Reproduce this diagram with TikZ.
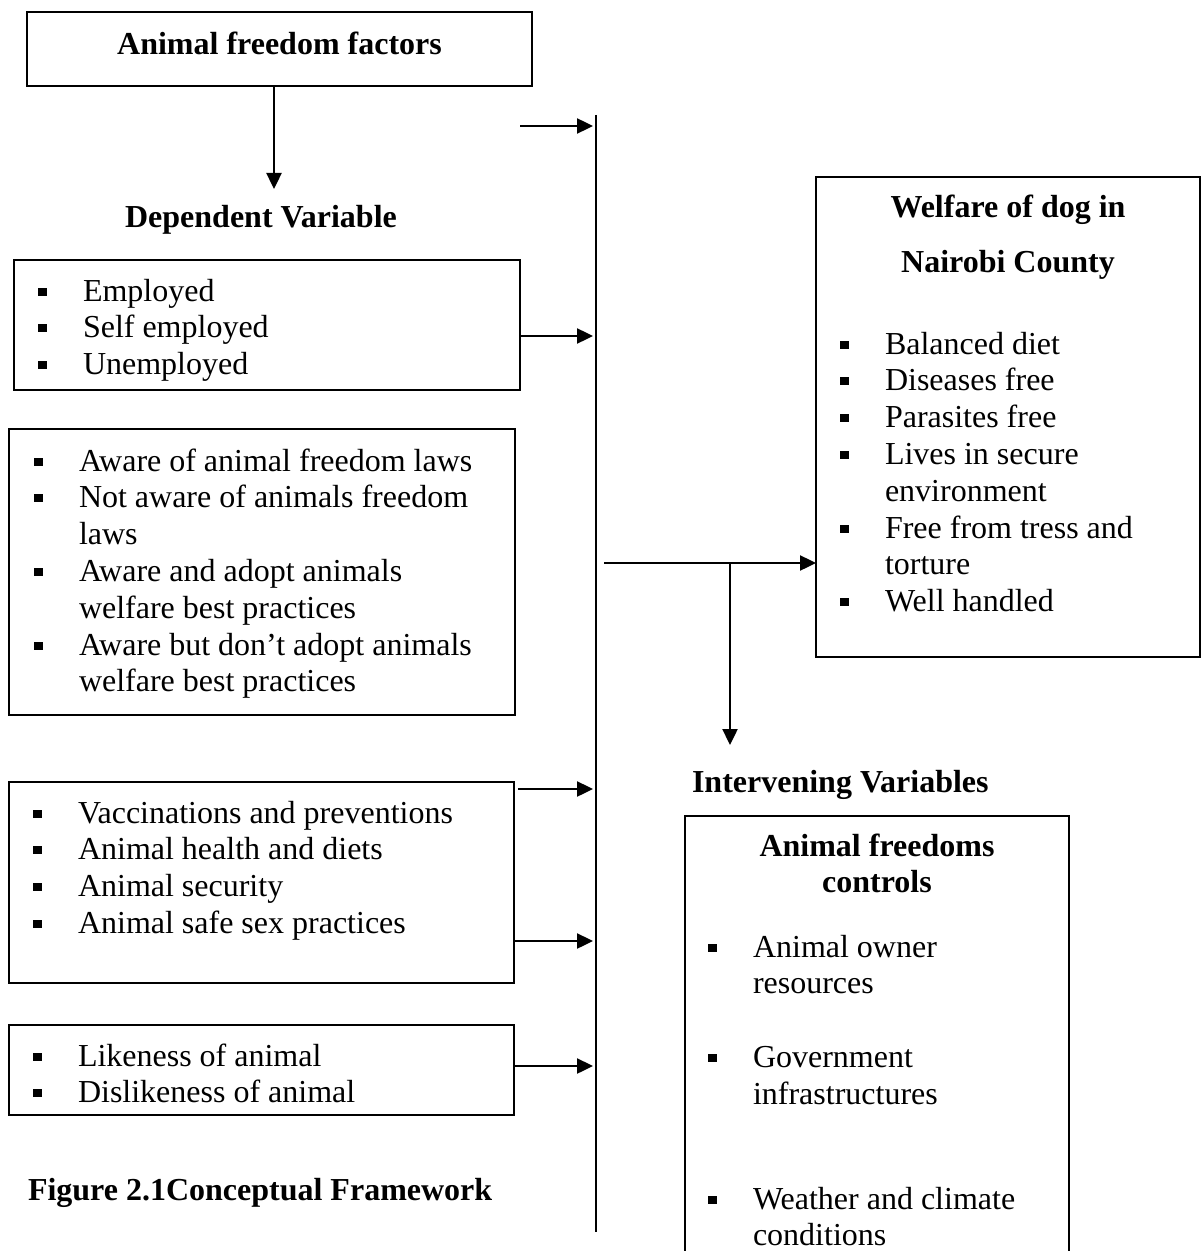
\documentclass[tikz,border=0pt]{standalone}
\usepackage{fontspec}
\setmainfont{Liberation Serif}
\usetikzlibrary{arrows.meta}
\newcommand{\bl}{\makebox[22.5pt][l]{\rule[2.7pt]{4.5pt}{4pt}}}
\begin{document}
\begin{tikzpicture}[x=0.5pt,y=-0.5pt,every node/.style={inner sep=0pt, outer sep=0pt, font=\fontsize{16}{18.4}\selectfont},
head/.style={font=\fontsize{16}{18.4}\selectfont\bfseries},
frame/.style={draw, line width=1pt, anchor=north west},
arr/.style={line width=1.2pt, -{Triangle[length=8pt,width=7.5pt]}}]
\clip (0,0) rectangle (1203,1251);
% frames
\node[frame, head, minimum width=252.5pt, minimum height=37pt, text depth=6pt] (factors) at (27,12) {Animal freedom factors};
\node[frame, minimum width=253pt, minimum height=65pt] (employ) at (14,260) {};
\node[frame, minimum width=253pt, minimum height=143pt] (aware) at (9,429) {};
\node[frame, minimum width=252.5pt, minimum height=100.5pt] (care) at (9,782) {};
\node[frame, minimum width=252.5pt, minimum height=45pt] (liking) at (9,1025) {};
\node[frame, minimum width=192pt, minimum height=240pt] (welfare) at (816,177) {};
\node[frame, minimum width=192pt, minimum height=250pt] (controls) at (685,816) {};
% headings
\node[head, anchor=base] (dep) at (261,228) {Dependent Variable};
\node[head, anchor=base] (welt1) at (1008,218) {Welfare of dog in};
\node[head, anchor=base] (welt2) at (1008,273) {Nairobi County};
\node[head, anchor=base west] (interv) at (692,792) {Intervening Variables};
\node[head, anchor=base] (ctrlt1) at (877,856) {Animal freedoms};
\node[head, anchor=base] (ctrlt2) at (877,892) {controls};
\node[head, anchor=base west] (caption) at (28,1200) {Figure 2.1Conceptual Framework};
% lists
\node[anchor=base west] (employlist) at (38,301) {\begin{tabular}[t]{@{}l@{}l@{}}
\bl & Employed\\
\bl & Self employed\\
\bl & Unemployed
\end{tabular}};
\node[anchor=base west] (awarelist) at (34,471) {\begin{tabular}[t]{@{}l@{}l@{}}
\bl & Aware of animal freedom laws\\
\bl & Not aware of animals freedom\\
 & laws\\
\bl & Aware and adopt animals\\
 & welfare best practices\\
\bl & Aware but don’t adopt animals\\
 & welfare best practices
\end{tabular}};
\node[anchor=base west] (carelist) at (33,823) {\begin{tabular}[t]{@{}l@{}l@{}}
\bl & Vaccinations and preventions\\
\bl & Animal health and diets\\
\bl & Animal security\\
\bl & Animal safe sex practices
\end{tabular}};
\node[anchor=base west] (likinglist) at (33,1066) {\begin{tabular}[t]{@{}l@{}l@{}}
\bl & Likeness of animal\\
\bl & Dislikeness of animal
\end{tabular}};
\node[anchor=base west] (welfarelist) at (840,354) {\begin{tabular}[t]{@{}l@{}l@{}}
\bl & Balanced diet\\
\bl & Diseases free\\
\bl & Parasites free\\
\bl & Lives in secure\\
 & environment\\
\bl & Free from tress and\\
 & torture\\
\bl & Well handled
\end{tabular}};
\node[anchor=base west] (controlslist) at (708,957) {\begin{tabular}[t]{@{}l@{}l@{}}
\bl & Animal owner\\
 & resources\\[18.4pt]
\bl & Government\\
 & infrastructures\\[34pt]
\bl & Weather and climate\\
 & conditions
\end{tabular}};
% connectors
\coordinate (bustop) at (596,115);
\coordinate (busbot) at (596,1232);
\draw[line width=0.8pt] (bustop) -- (busbot);
\coordinate (depin) at (274,189);
\draw[arr] ([xshift=-2.75pt]factors.south) -- (depin);
\coordinate (feed) at (520,126);
\draw[arr] (feed) -- ([xshift=-1.5pt]feed -| bustop);
\foreach \src/\dy/\dx in {employ/-5.5/0, care/46.75/2, care/-29.25/0, liking/2/0}
  \draw[arr] ([xshift=\dx pt,yshift=\dy pt]\src.east) -- ([xshift=-1.5pt,yshift=\dy pt]\src.east -| bustop);
\coordinate (tap) at (604,563);
\coordinate (split) at (730,563);
\coordinate (drop) at (730,745);
\draw[arr] (tap) -- (tap -| welfare.west);
\draw[arr] (split) -- (drop);
\end{tikzpicture}
\end{document}
